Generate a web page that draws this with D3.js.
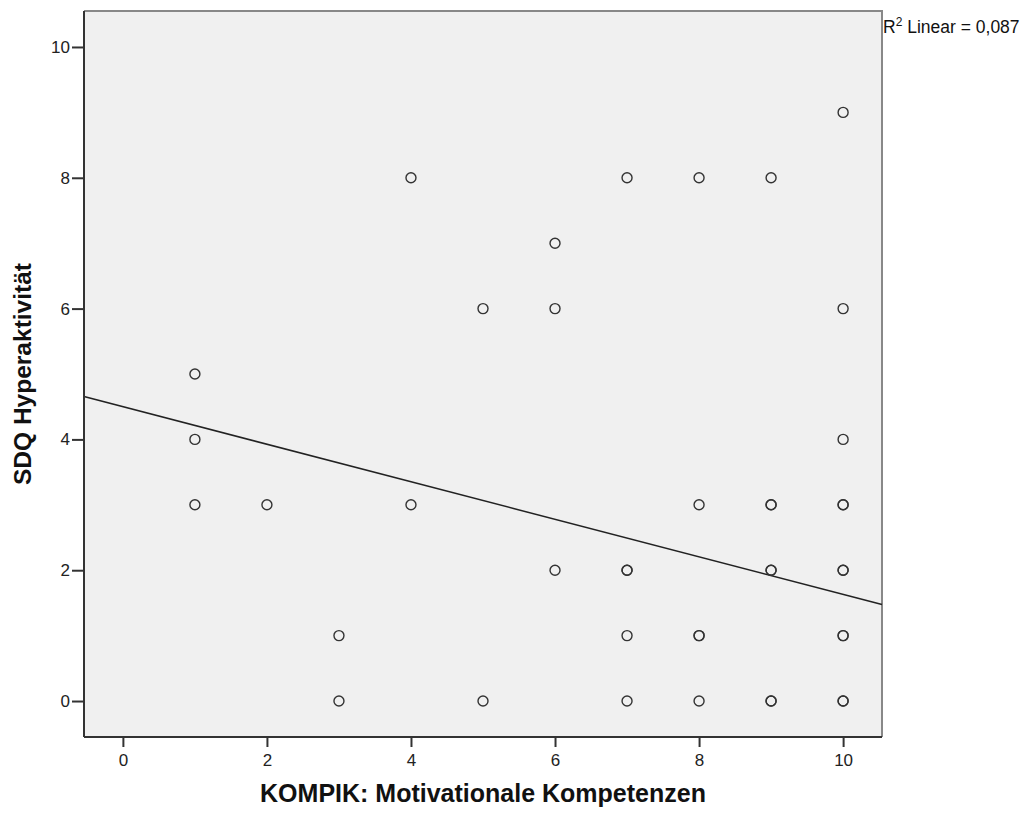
<!DOCTYPE html>
<html>
<head>
<meta charset="utf-8">
<script src="https://cdn.jsdelivr.net/npm/d3@7"></script>
<style>
  body { margin: 0; background: #fff; }
  svg text { font-family: Arial, "Liberation Sans", sans-serif; }
</style>
</head>
<body>
<div id="container"></div>
<script>
// ---------- DATA ----------
// x = KOMPIK score, y = SDQ score (repeated pairs = overlapping cases)
const kompik = [1, 1, 1, 2, 3, 3, 4, 4, 5, 5, 6, 6, 6,
    7, 7, 7, 7, 7, 8, 8, 8, 8, 8,
    9, 9, 9, 9, 9, 9, 9,
    10, 10, 10, 10, 10, 10, 10, 10, 10, 10, 10];
const sdq = [5, 4, 3, 3, 1, 0, 8, 3, 6, 0, 7, 6, 2,
    8, 2, 2, 1, 0, 8, 3, 1, 1, 0,
    8, 3, 3, 2, 2, 0, 0,
    9, 6, 4, 3, 3, 2, 2, 1, 1, 0, 0];
const xTicks = [0, 2, 4, 6, 8, 10];
const yTicks = [0, 2, 4, 6, 8, 10];
const fitIntercept = 4.50;
const fitSlope = -0.287;
const r2Label = '0,087';

// ---------- DIMENSIONS ----------
const width = 1028;
const height = 814;
const marginLeft = 84;
const marginRight = 146;
const marginTop = 11;
const marginBottom = 77;

const svg = d3.create('svg')
    .attr('width', width)
    .attr('height', height);

const x = d3.scaleLinear()
    .domain([-0.54, 10.54])
    .range([marginLeft, width - marginRight]);

const y = d3.scaleLinear()
    .domain([-0.55, 10.55])
    .range([height - marginBottom, marginTop]);

// plot background
svg.append('rect')
    .attr('x', marginLeft)
    .attr('y', marginTop)
    .attr('width', width - marginRight - marginLeft)
    .attr('height', height - marginBottom - marginTop)
    .attr('fill', '#f0f0f0');

// top / right frame (lighter)
svg.append('path')
    .attr('d', `M${marginLeft},${marginTop}H${width - marginRight}V${height - marginBottom}`)
    .attr('fill', 'none')
    .attr('stroke', '#888')
    .attr('stroke-width', 2);

// ---------- FIT LINE ----------
const [x0, x1] = x.domain();
svg.append('line')
    .attr('x1', x(x0)).attr('y1', y(fitIntercept + fitSlope * x0))
    .attr('x2', x(x1)).attr('y2', y(fitIntercept + fitSlope * x1))
    .attr('stroke', '#222')
    .attr('stroke-width', 1.5);

// ---------- POINTS ----------
svg.append('g')
    .selectAll('circle')
    .data(kompik.map((k, i) => ({ k, s: sdq[i] })))
    .join('circle')
    .attr('cx', d => x(d.k))
    .attr('cy', d => y(d.s))
    .attr('r', 5)
    .attr('fill', 'none')
    .attr('stroke', '#333')
    .attr('stroke-width', 1.4);

// ---------- AXES ----------
const xAxis = svg.append('g')
    .attr('transform', `translate(0,${height - marginBottom})`)
    .call(d3.axisBottom(x).tickValues(xTicks).tickSize(10).tickPadding(7));

const yAxis = svg.append('g')
    .attr('transform', `translate(${marginLeft},0)`)
    .call(d3.axisLeft(y).tickValues(yTicks).tickSize(12).tickPadding(2));

[xAxis, yAxis].forEach(a => {
    a.select('.domain')
        .attr('stroke', '#333')
        .attr('stroke-width', 2)
        .attr('d', a === xAxis
            ? `M${marginLeft},0H${width - marginRight}`
            : `M0,${marginTop}V${height - marginBottom}`);
    a.selectAll('.tick line').attr('stroke', '#333').attr('stroke-width', 2);
    a.selectAll('.tick text')
        .attr('fill', '#222')
        .style('font-size', '17px');
});

// ---------- LABELS ----------
svg.append('text')
    .attr('x', (marginLeft + width - marginRight) / 2)
    .attr('y', 802)
    .attr('text-anchor', 'middle')
    .style('font-size', '25px')
    .style('font-weight', 'bold')
    .attr('fill', '#111')
    .text('KOMPIK: Motivationale Kompetenzen');

svg.append('text')
    .attr('transform', `translate(31,${(marginTop + height - marginBottom) / 2}) rotate(-90)`)
    .attr('text-anchor', 'middle')
    .style('font-size', '24.5px')
    .style('font-weight', 'bold')
    .attr('fill', '#111')
    .text('SDQ Hyperaktivität');

const r2 = svg.append('text')
    .attr('x', width - marginRight + 1)
    .attr('y', 33)
    .style('font-size', '17.5px')
    .attr('fill', '#111');
r2.append('tspan').text('R');
r2.append('tspan').attr('dy', -7).style('font-size', '12px').text('2');
r2.append('tspan').attr('dy', 7).text(` Linear = ${r2Label}`);

document.getElementById('container').append(svg.node());
</script>
</body>
</html>
